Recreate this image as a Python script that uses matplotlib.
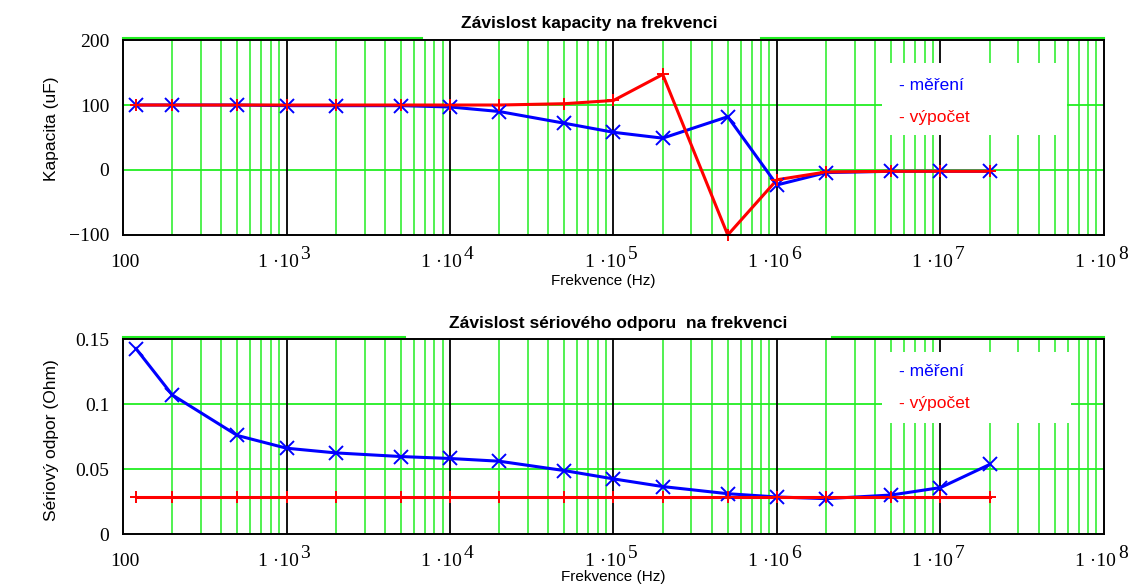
import matplotlib
matplotlib.use("Agg")
import matplotlib.pyplot as plt
import matplotlib.transforms as mtransforms
from matplotlib.patches import Rectangle
import numpy as np

# ---------------- data ----------------
freq = [120, 200, 500, 1e3, 2e3, 5e3, 1e4, 2e4, 5e4, 1e5, 2e5, 5e5, 1e6, 2e6, 5e6, 1e7, 2e7]
cap_meas = [100, 100, 100, 99, 99, 99, 97, 90, 72, 58, 49, 82, -23, -4, -2, -2, -2]
cap_calc = [100, 100, 100, 100, 100, 100, 100, 100, 102, 107, 147, -100, -15, -3, -2, -2, -2]
res_meas = [0.1426, 0.107, 0.0758, 0.066, 0.0624, 0.0596, 0.0581, 0.056, 0.0488, 0.0424,
            0.0365, 0.031, 0.0285, 0.0272, 0.030, 0.0357, 0.0535]
res_calc = [0.0283] * 17

xtick_vals = [1e2, 1e3, 1e4, 1e5, 1e6, 1e7, 1e8]
xtick_mant = ["100", "1 ·10", "1 ·10", "1 ·10", "1 ·10", "1 ·10", "1 ·10"]
xtick_exp = ["", "3", "4", "5", "6", "7", "8"]
cap_yticks = [-100, 0, 100, 200]
cap_ylabels = ["\u2212100", "0", "100", "200"]
res_yticks = [0, 0.05, 0.1, 0.15]
res_ylabels = ["0", "0.05", "0.1", "0.15"]

titles = ["Závislost kapacity na frekvenci", "Závislost sériového odporu  na frekvenci"]
ylabels = ["Kapacita (uF)", "Sériový odpor (Ohm)"]
xlabel = "Frekvence (Hz)"
legend_texts = ["- měření", "- výpočet"]

# ---------------- style ----------------
GREEN = "#22ee22"
BLUE = "#0000ff"
RED = "#ff0000"
SERIF = "Liberation Serif"
SANS = "Liberation Sans"

fig = plt.figure(figsize=(11.34, 5.86), dpi=100)
ax1 = fig.add_axes([0.1085, 0.599, 0.865, 0.3327])
ax2 = fig.add_axes([0.1085, 0.0887, 0.865, 0.3328])


def setup(ax, yticks, ylabels_, ylim, title, title_pos, ylabel, ylabel_pos,
          xlabel_pos, top_green, legend_box, legend_pos):
    ax.set_xscale("log")
    ax.set_xlim(1e2, 1e8)
    ax.set_ylim(*ylim)
    # vertical grid
    for d in range(2, 8):
        for m in range(2, 10):
            ax.axvline(m * 10 ** d, color=GREEN, lw=1.1, zorder=1)
    for d in range(3, 8):
        ax.axvline(10 ** d, color="black", lw=1.3, zorder=1.1)
    # horizontal grid
    for yv in yticks[1:-1]:
        ax.axhline(yv, color=GREEN, lw=1.3, zorder=1)
    # green top line fragments slightly above the frame
    off = mtransforms.ScaledTranslation(0, 2 / 100, fig.dpi_scale_trans)
    for a, b in top_green:
        ax.plot([a, b], [1, 1], color=GREEN, lw=1.5, zorder=1,
                clip_on=False, transform=ax.transAxes + off)
    # legend box
    x0, y0, x1, y1 = legend_box
    ax.add_patch(Rectangle((x0, y0), x1 - x0, y1 - y0, transform=ax.transAxes,
                           facecolor="white", edgecolor="none", zorder=2))
    lx, ly1, ly2 = legend_pos
    ax.text(lx, ly1, legend_texts[0], color=BLUE, fontsize=12.5, family=SANS,
            transform=ax.transAxes, va="center", zorder=7)
    ax.text(lx, ly2, legend_texts[1], color=RED, fontsize=12.5, family=SANS,
            transform=ax.transAxes, va="center", zorder=7)

    # x tick labels (mantissa + full-size raised exponent)
    ax.set_xticks(xtick_vals)
    ax.set_xticklabels([])
    ax.xaxis.set_minor_locator(matplotlib.ticker.NullLocator())
    for v, m, e in zip(xtick_vals, xtick_mant, xtick_exp):
        if e:
            ax.annotate(m, xy=(v, 0), xycoords=("data", "axes fraction"),
                        xytext=(12, -32), textcoords="offset pixels",
                        ha="right", va="baseline", family=SERIF, fontsize=14,
                        annotation_clip=False)
            ax.annotate(e, xy=(v, 0), xycoords=("data", "axes fraction"),
                        xytext=(14, -24), textcoords="offset pixels",
                        ha="left", va="baseline", family=SERIF, fontsize=14,
                        annotation_clip=False)
        else:
            ax.annotate(m, xy=(v, 0), xycoords=("data", "axes fraction"),
                        xytext=(2, -32), textcoords="offset pixels",
                        ha="center", va="baseline", family=SERIF, fontsize=14,
                        annotation_clip=False)

    ax.set_yticks(yticks)
    ax.set_yticklabels(ylabels_, family=SERIF, fontsize=14)
    ax.tick_params(axis="both", length=0)
    ax.tick_params(axis="y", pad=10)
    for s in ax.spines.values():
        s.set_linewidth(1.4)
        s.set_color("black")
        s.set_zorder(8)
    ax.text(title_pos[0], title_pos[1], title, transform=ax.transAxes,
            fontsize=12.5, fontweight="bold", family=SANS, ha="center", va="baseline")
    ax.set_ylabel(ylabel, fontsize=12.5, family=SANS)
    ax.yaxis.set_label_coords(*ylabel_pos)
    ax.set_xlabel(xlabel, fontsize=11, family=SANS)
    ax.xaxis.set_label_coords(*xlabel_pos)
    ax.xaxis.label.set_va("center")
    ax.yaxis.label.set_va("center")


setup(ax1, cap_yticks, cap_ylabels, (-100, 200), titles[0], (0.475, 1.063),
      ylabels[0], (-0.0734, 0.546), (0.49, -0.236),
      [(0, 0.305), (0.65, 1.0)], (0.774, 0.513, 0.962, 0.882), (0.791, 0.769, 0.605))
setup(ax2, res_yticks, res_ylabels, (0, 0.15), titles[1], (0.505, 1.058),
      ylabels[1], (-0.073, 0.482), (0.4995, -0.222),
      [(0, 0.287), (0.723, 1.0)], (0.774, 0.569, 0.966, 0.933), (0.791, 0.831, 0.667))

for ax, ym, yc in [(ax1, cap_meas, cap_calc), (ax2, res_meas, res_calc)]:
    ax.plot(freq, ym, color=BLUE, lw=2.2, zorder=3, clip_on=False)
    ax.plot(freq, yc, color=RED, lw=2.2, zorder=4, clip_on=False)
    ax.plot(freq, ym, ls="none", marker="x", ms=10, mew=1.4, color=BLUE, zorder=5, clip_on=False)
    ax.plot(freq, yc, ls="none", marker="+", ms=9, mew=1.4, color=RED, zorder=6, clip_on=False)

fig.savefig("out.png", dpi=100)
